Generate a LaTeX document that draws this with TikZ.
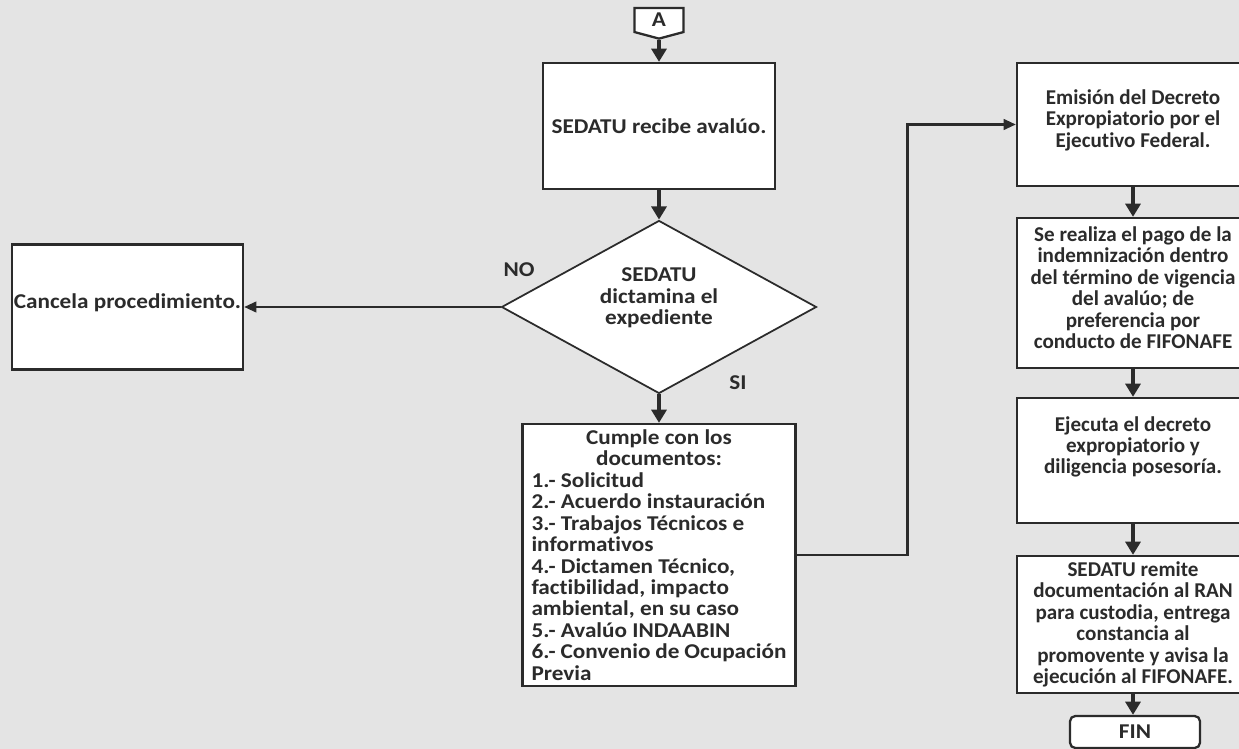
\documentclass[tikz,border=0pt]{standalone}
\usepackage{fontspec}
\setmainfont[FakeStretch=1.1, Ligatures={NoCommon}]{Carlito}
\newfontfamily\narrowfont[Ligatures={NoCommon}]{Carlito}
\usetikzlibrary{arrows.meta,shapes.geometric,shapes.symbols}
\definecolor{ink}{HTML}{2B2B2B}
\definecolor{paper}{HTML}{E4E4E4}
\begin{document}
\begin{tikzpicture}[x=0.02cm, y=-0.02cm,
    every node/.style={font=\fontsize{12}{12.2}\selectfont\bfseries, text=ink},
    box/.style={draw=ink, line width=1.3pt, fill=white, align=center, inner sep=1pt},
    rbox/.style={box, minimum width=4.64cm, font=\narrowfont\bfseries\fontsize{12}{12.2}\selectfont},
    flow/.style={draw=ink, line width=2.8pt, -{Triangle[length=7.5pt,width=8.5pt]}},
    link/.style={draw=ink, line width=1.5pt, -{Triangle[length=7pt,width=6pt]}}]
    \fill[paper] (0,0) rectangle (1239,749);
    \useasboundingbox (0,0) rectangle (1239,749);

    \node[box, signal, signal to=south, signal pointer angle=150, minimum width=0.98cm, minimum height=0.52cm, inner sep=0pt] (conA) at (659,20) {A};
    \node[box, minimum width=4.64cm, minimum height=2.52cm] (recibe) at (659,126) {SEDATU recibe avalúo.};
    \node[box, diamond, aspect=1.82, line width=1pt, minimum width=6.3cm, minimum height=3.46cm, inner sep=0pt] (dictamina) at (659,307) {SEDATU\\dictamina el\\expediente\\\mbox{}};
    \node[box, minimum width=4.62cm, minimum height=2.5cm] (cancela) at (127.5,307) {Cancela procedimiento.\\[-6pt]\mbox{}};
    \node[box, minimum width=5.46cm, minimum height=5.24cm] (cumple) at (659,555) {\begin{minipage}{5.1cm}\centering Cumple con los\\documentos:\par\raggedright
        1.- Solicitud\\2.- Acuerdo instauración\\3.- Trabajos Técnicos e\\informativos\\4.- Dictamen Técnico,\\factibilidad, impacto\\ambiental, en su caso\\5.- Avalúo INDAABIN\\6.- Convenio de Ocupación\\Previa\end{minipage}};

    \node[rbox, minimum height=2.46cm] (emision) at (1133,124.5) {Emisión del Decreto\\Expropiatorio por el\\Ejecutivo Federal.\\[-5pt]\mbox{}};
    \node[rbox, minimum height=3cm] (pago) at (1133,293) {Se realiza el pago de la\\indemnización dentro\\del término de vigencia\\del avalúo; de\\preferencia por\\conducto de FIFONAFE\\[-6pt]\mbox{}};
    \node[rbox, minimum height=2.5cm] (ejecuta) at (1133,460.5) {Ejecuta el decreto\\expropiatorio y\\diligencia posesoría.\\[5.4pt]\mbox{}};
    \node[rbox, minimum height=2.74cm] (remite) at (1133,624.5) {SEDATU remite\\documentación al RAN\\para custodia, entrega\\constancia al\\promovente y avisa la\\ejecución al FIFONAFE.};
    \node[box, rounded corners=3pt, minimum width=2.6cm, minimum height=0.64cm, inner sep=0pt] (fin) at (1135,732) {FIN};

    \node (no) at (519,270) {NO};
    \node (si) at (738,383) {SI};

    \draw[flow] (conA.south) -- (recibe.north);
    \draw[flow] (recibe.south) -- (dictamina.north);
    \draw[flow] (dictamina.south) -- (cumple.north);
    \draw[link] (dictamina.west) -- (cancela.east);
    \draw[link] (cumple.east) -- ++(111,0) |- (emision.west);
    \draw[flow] (emision.south) -- (pago.north);
    \draw[flow] (pago.south) -- (ejecuta.north);
    \draw[flow] (ejecuta.south) -- (remite.north);
    \draw[flow] (remite.south) -- (fin.north -| remite.south);
\end{tikzpicture}
\end{document}
